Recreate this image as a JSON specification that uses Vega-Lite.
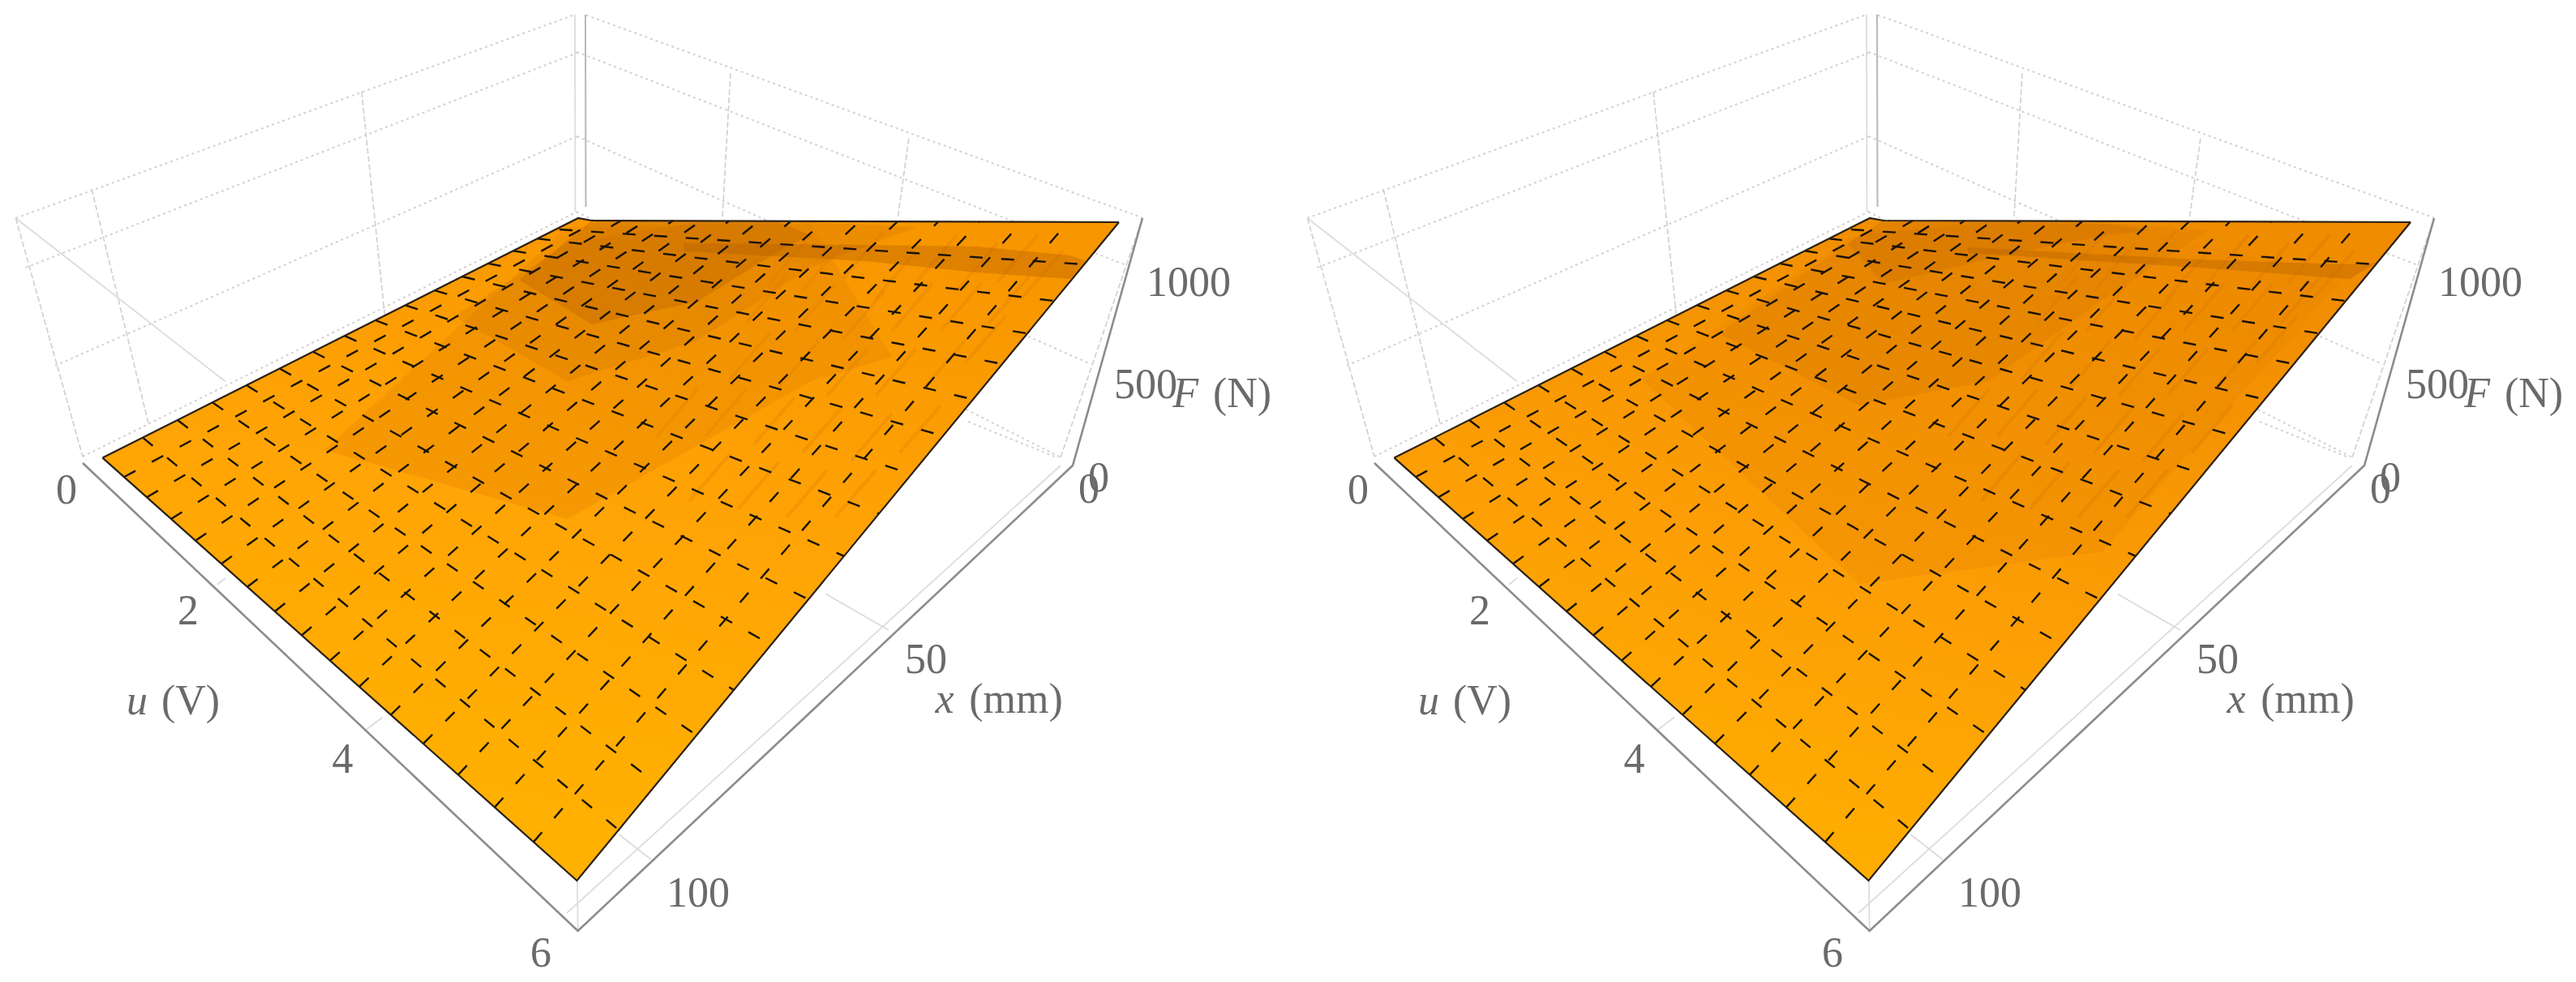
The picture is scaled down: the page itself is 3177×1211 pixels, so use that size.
{
"$schema":"https://vega.github.io/schema/vega-lite/v6.json",
"padding":0,"spacing":0,"background":"white","config":{"view":{"stroke":null},"concat":{"spacing":0}},
"datasets":{
"wallDotted":[
{"id":1,"x":19.4,"y":269},{"id":1,"x":709,"y":18},{"id":2,"x":31.6,"y":330},{"id":2,"x":712,"y":65},{"id":3,"x":68,"y":451},{"id":3,"x":712,"y":168},{"id":4,"x":102,"y":563},{"id":4,"x":712,"y":261},
{"id":5,"x":723,"y":18.7},{"id":5,"x":1409,"y":268.6},{"id":6,"x":711.5,"y":64},{"id":6,"x":1389,"y":327},{"id":7,"x":711.5,"y":168},{"id":7,"x":1343,"y":448},{"id":8,"x":711,"y":261},{"id":8,"x":1308,"y":564},{"id":9,"x":1194,"y":520},{"id":9,"x":1303,"y":564}],
"wallDashed":[
{"id":1,"x":19.4,"y":269},{"id":1,"x":102,"y":563},{"id":2,"x":113,"y":233},{"id":2,"x":183,"y":522},{"id":3,"x":446,"y":113},{"id":3,"x":474.5,"y":389},{"id":4,"x":891,"y":267},{"id":4,"x":901,"y":89},{"id":5,"x":1107.5,"y":267},{"id":5,"x":1121,"y":170},{"id":6,"x":1308,"y":564},{"id":6,"x":1409,"y":269}],
"lightSolid":[
{"id":1,"x":19.4,"y":269},{"id":1,"x":278,"y":470.5},{"id":2,"x":699,"y":1126},{"id":2,"x":1308,"y":574},{"id":3,"x":712,"y":1086},{"id":3,"x":712.7,"y":1147},{"id":4,"x":268,"y":721},{"id":4,"x":278,"y":713},{"id":5,"x":451.5,"y":900},{"id":5,"x":472,"y":884.5},{"id":6,"x":1018.6,"y":732.5},{"id":6,"x":1096,"y":777},{"id":7,"x":763,"y":1028.7},{"id":7,"x":803,"y":1060},{"id":8,"x":709,"y":18},{"id":8,"x":709.5,"y":261}],
"axisLine":[
{"id":1,"x":102,"y":571},{"id":1,"x":712.7,"y":1148},{"id":1,"x":1323,"y":574},{"id":1,"x":1409,"y":269}],
"backPost":[{"x":722,"y":18},{"x":722.5,"y":255}],
"surface":[
{"x":126.5,"y":564.6,"y2":564.6},{"x":711.5,"y":269.5,"y2":1086},{"x":730,"y":272,"y2":1063.5},{"x":1380,"y":274,"y2":274}],
"patchesL":[
{"id":"a","shade":0.25,"x":400,"y":555,"y2":555},{"id":"a","shade":0.25,"x":700,"y":280,"y2":640},{"id":"a","shade":0.25,"x":1000,"y":276,"y2":470},{"id":"a","shade":0.25,"x":1100,"y":440,"y2":440},
{"id":"b","shade":0.4,"x":560,"y":390,"y2":390},{"id":"b","shade":0.4,"x":700,"y":300,"y2":470},{"id":"b","shade":0.4,"x":860,"y":274,"y2":420},{"id":"b","shade":0.4,"x":1000,"y":274,"y2":330},{"id":"b","shade":0.4,"x":1130,"y":280,"y2":280},
{"id":"c","shade":0.8,"x":640,"y":345,"y2":345},{"id":"c","shade":0.8,"x":730,"y":272,"y2":400},{"id":"c","shade":0.8,"x":860,"y":273,"y2":372},{"id":"c","shade":0.8,"x":960,"y":274,"y2":310},{"id":"c","shade":0.8,"x":1000,"y":290,"y2":290},
{"id":"s","shade":0.9,"x":843,"y":300,"y2":310},{"id":"s","shade":0.9,"x":1067,"y":302,"y2":322},{"id":"s","shade":0.9,"x":1205,"y":304,"y2":336},{"id":"s","shade":0.9,"x":1320,"y":315,"y2":344},{"id":"s","shade":0.9,"x":1340,"y":322,"y2":322}],
"patchesR":[
{"id":"a","shade":0.2,"x":431,"y":467,"y2":467},{"id":"a","shade":0.2,"x":700,"y":285,"y2":720},{"id":"a","shade":0.2,"x":1000,"y":276,"y2":680},{"id":"a","shade":0.2,"x":1300,"y":340,"y2":340},
{"id":"b","shade":0.4,"x":527,"y":411,"y2":411},{"id":"b","shade":0.4,"x":700,"y":290,"y2":500},{"id":"b","shade":0.4,"x":860,"y":274,"y2":470},{"id":"b","shade":0.4,"x":1000,"y":274,"y2":370},{"id":"b","shade":0.4,"x":1130,"y":284,"y2":284},
{"id":"c","shade":0.6,"x":686,"y":300,"y2":300},{"id":"c","shade":0.6,"x":730,"y":272,"y2":350},{"id":"c","shade":0.6,"x":900,"y":274,"y2":310},{"id":"c","shade":0.6,"x":1006,"y":276,"y2":290},{"id":"c","shade":0.6,"x":1060,"y":284,"y2":284},
{"id":"s","shade":0.9,"x":834,"y":305,"y2":312},{"id":"s","shade":0.9,"x":1118,"y":320,"y2":330},{"id":"s","shade":0.9,"x":1305,"y":326,"y2":344},{"id":"s","shade":0.9,"x":1338,"y":324,"y2":324}],
"streaks":[
{"id":1,"x":950,"y":348},{"id":1,"x":1000,"y":290},{"id":2,"x":990,"y":358},{"id":2,"x":1040,"y":300},{"id":3,"x":1040,"y":343},{"id":3,"x":1090,"y":285},{"id":4,"x":1080,"y":368},{"id":4,"x":1130,"y":310},{"id":5,"x":1130,"y":348},{"id":5,"x":1180,"y":290},{"id":6,"x":1180,"y":358},{"id":6,"x":1230,"y":300},{"id":7,"x":1230,"y":348},{"id":7,"x":1280,"y":290},{"id":8,"x":1260,"y":368},{"id":8,"x":1310,"y":310},
{"id":9,"x":1220,"y":398},{"id":9,"x":1270,"y":340},{"id":10,"x":1160,"y":408},{"id":10,"x":1210,"y":350},{"id":11,"x":1100,"y":408},{"id":11,"x":1150,"y":350},{"id":12,"x":1040,"y":418},{"id":12,"x":1090,"y":360},{"id":13,"x":980,"y":408},{"id":13,"x":1030,"y":350},{"id":14,"x":920,"y":398},{"id":14,"x":970,"y":340},
{"id":15,"x":1190,"y":448},{"id":15,"x":1240,"y":390},{"id":16,"x":1140,"y":478},{"id":16,"x":1190,"y":420},{"id":17,"x":1080,"y":488},{"id":17,"x":1130,"y":430},{"id":18,"x":1020,"y":488},{"id":18,"x":1070,"y":430},{"id":19,"x":960,"y":478},{"id":19,"x":1010,"y":420},{"id":20,"x":900,"y":468},{"id":20,"x":950,"y":410},
{"id":21,"x":1110,"y":558},{"id":21,"x":1160,"y":500},{"id":22,"x":1050,"y":568},{"id":22,"x":1100,"y":510},{"id":23,"x":990,"y":558},{"id":23,"x":1040,"y":500},{"id":24,"x":930,"y":548},{"id":24,"x":980,"y":490},{"id":25,"x":870,"y":538},{"id":25,"x":920,"y":480},
{"id":26,"x":1030,"y":638},{"id":26,"x":1080,"y":580},{"id":27,"x":970,"y":638},{"id":27,"x":1020,"y":580},{"id":28,"x":910,"y":628},{"id":28,"x":960,"y":570},{"id":29,"x":850,"y":618},{"id":29,"x":900,"y":560},{"id":30,"x":810,"y":538},{"id":30,"x":860,"y":480}],
"grid":[
{"id":"a1","x":153,"y":588.2},{"id":"a1","x":737,"y":272},{"id":"a2","x":181,"y":613.2},{"id":"a2","x":766,"y":272},{"id":"a3","x":211,"y":639.9},{"id":"a3","x":797,"y":272},{"id":"a4","x":241,"y":666.7},{"id":"a4","x":830,"y":272},{"id":"a5","x":273,"y":695.2},{"id":"a5","x":864,"y":272.5},
{"id":"a6","x":305,"y":723.7},{"id":"a6","x":899,"y":272.5},{"id":"a7","x":339,"y":754},{"id":"a7","x":936,"y":272.5},{"id":"a8","x":372,"y":783.5},{"id":"a8","x":975,"y":273},{"id":"a9","x":407,"y":814.7},{"id":"a9","x":1016,"y":273},{"id":"a10","x":443,"y":846.8},{"id":"a10","x":1060,"y":273},
{"id":"a11","x":482,"y":881.5},{"id":"a11","x":1107,"y":273},{"id":"a12","x":522,"y":917.2},{"id":"a12","x":1157,"y":273.5},{"id":"a13","x":565,"y":955.5},{"id":"a13","x":1208,"y":273.5},{"id":"a14","x":610,"y":995.6},{"id":"a14","x":1260,"y":274},{"id":"a15","x":658,"y":1038.4},{"id":"a15","x":1317,"y":274},
{"id":"b1","x":176,"y":539.6},{"id":"b1","x":763,"y":1023.4},{"id":"b2","x":219,"y":518},{"id":"b2","x":810,"y":966.4},{"id":"b3","x":262,"y":496.3},{"id":"b3","x":859,"y":906.8},{"id":"b4","x":304,"y":475.1},{"id":"b4","x":905,"y":851},{"id":"b5","x":345,"y":454.5},{"id":"b5","x":951,"y":795.1},
{"id":"b6","x":386,"y":433.8},{"id":"b6","x":997,"y":739.2},{"id":"b7","x":425,"y":414.1},{"id":"b7","x":1041,"y":685.8},{"id":"b8","x":463,"y":395},{"id":"b8","x":1084,"y":633.5},{"id":"b9","x":500,"y":376.3},{"id":"b9","x":1124,"y":584.9},{"id":"b10","x":536,"y":358.2},{"id":"b10","x":1163,"y":537.6},
{"id":"b11","x":570,"y":341},{"id":"b11","x":1200,"y":492.6},{"id":"b12","x":602,"y":324.9},{"id":"b12","x":1236,"y":448.9},{"id":"b13","x":633,"y":309.3},{"id":"b13","x":1267,"y":411.2},{"id":"b14","x":663,"y":294.2},{"id":"b14","x":1300,"y":371.1},{"id":"b15","x":690,"y":283},{"id":"b15","x":1337,"y":326}],
"edges":[
{"id":1,"x":126.5,"y":564.6},{"id":1,"x":711.5,"y":1086},{"id":1,"x":1380,"y":274},{"id":2,"x":126.5,"y":564.6},{"id":2,"x":713,"y":269},{"id":2,"x":730,"y":272},{"id":2,"x":1380,"y":274}],
"labels":[
{"x":82,"y":621,"t":"0"},{"x":232,"y":769.5,"t":"2"},{"x":422.5,"y":952.7,"t":"4"},{"x":667,"y":1192,"t":"6"},{"x":235,"y":880.6,"t":"(V)"},
{"x":861,"y":1118,"t":"100"},{"x":1142,"y":830,"t":"50"},{"x":1343,"y":620,"t":"0"},{"x":1253,"y":878.6,"t":"(mm)"},
{"x":1355,"y":606,"t":"0"},{"x":1413,"y":491,"t":"500"},{"x":1466,"y":365,"t":"1000"},{"x":1532,"y":501.5,"t":"(N)"}],
"italics":[{"x":169,"y":880.6,"t":"u"},{"x":1165,"y":878.6,"t":"x"},{"x":1462,"y":501.5,"t":"F"}]
},
"hconcat":[
{"width":1593,"height":1211,
"encoding":{"x":{"field":"x","type":"quantitative","scale":{"domain":[0,1593],"nice":false,"zero":false},"axis":null},"y":{"field":"y","type":"quantitative","scale":{"domain":[1211,0],"nice":false,"zero":false},"axis":null}},
"layer":[
{"data":{"name":"wallDotted"},"mark":{"type":"line","stroke":"#d2d2d2","strokeWidth":2,"strokeDash":[3,4]},"encoding":{"detail":{"field":"id"}}},
{"data":{"name":"wallDashed"},"mark":{"type":"line","stroke":"#cfcfcf","strokeWidth":1.6,"strokeDash":[7,3]},"encoding":{"detail":{"field":"id"}}},
{"data":{"name":"lightSolid"},"mark":{"type":"line","stroke":"#dcdcdc","strokeWidth":1.8},"encoding":{"detail":{"field":"id"}}},
{"data":{"name":"backPost"},"mark":{"type":"line","stroke":"#b8b8b8","strokeWidth":2},"encoding":{}},
{"data":{"name":"axisLine"},"mark":{"type":"line","stroke":"#8c8c8c","strokeWidth":2.6},"encoding":{"detail":{"field":"id"}}},
{"data":{"name":"surface"},"mark":{"type":"area","fill":{"gradient":"linear","x1":0.35,"y1":1,"x2":0.65,"y2":0,"stops":[{"offset":0,"color":"#ffb300"},{"offset":0.55,"color":"#ffa405"},{"offset":1,"color":"#f89600"}]}},"encoding":{"y2":{"field":"y2"}}},
{"data":{"name":"streaks"},"mark":{"type":"line","stroke":"#d97c00","strokeWidth":4,"opacity":0.3},"encoding":{"detail":{"field":"id"}}},
{"data":{"name":"patchesL"},"mark":{"type":"area","opacity":0.35},"encoding":{"y2":{"field":"y2"},"detail":{"field":"id"},"color":{"field":"shade","type":"quantitative","legend":null,"scale":{"domain":[0,1],"range":["#f79400","#a85500"]}}}},
{"data":{"name":"grid"},"mark":{"type":"line","stroke":"#1a1208","strokeWidth":2.4,"strokeDash":[16,23]},"encoding":{"detail":{"field":"id"}}},
{"data":{"name":"edges"},"mark":{"type":"line","stroke":"#2a2015","strokeWidth":2.2},"encoding":{"detail":{"field":"id"}}},
{"data":{"name":"labels"},"mark":{"type":"text","font":"Liberation Serif","fontSize":52,"fill":"#6a6a6a","align":"center","baseline":"alphabetic"},"encoding":{"text":{"field":"t"}}},
{"data":{"name":"italics"},"mark":{"type":"text","font":"Liberation Serif","fontStyle":"italic","fontSize":52,"fill":"#6a6a6a","align":"center","baseline":"alphabetic"},"encoding":{"text":{"field":"t"}}}
]},
{"width":1584,"height":1211,
"encoding":{"x":{"field":"x","type":"quantitative","scale":{"domain":[0,1584],"nice":false,"zero":false},"axis":null},"y":{"field":"y","type":"quantitative","scale":{"domain":[1211,0],"nice":false,"zero":false},"axis":null}},
"layer":[
{"data":{"name":"wallDotted"},"mark":{"type":"line","stroke":"#d2d2d2","strokeWidth":2,"strokeDash":[3,4]},"encoding":{"detail":{"field":"id"}}},
{"data":{"name":"wallDashed"},"mark":{"type":"line","stroke":"#cfcfcf","strokeWidth":1.6,"strokeDash":[7,3]},"encoding":{"detail":{"field":"id"}}},
{"data":{"name":"lightSolid"},"mark":{"type":"line","stroke":"#dcdcdc","strokeWidth":1.8},"encoding":{"detail":{"field":"id"}}},
{"data":{"name":"backPost"},"mark":{"type":"line","stroke":"#b8b8b8","strokeWidth":2},"encoding":{}},
{"data":{"name":"axisLine"},"mark":{"type":"line","stroke":"#8c8c8c","strokeWidth":2.6},"encoding":{"detail":{"field":"id"}}},
{"data":{"name":"surface"},"mark":{"type":"area","fill":{"gradient":"linear","x1":0.3,"y1":1,"x2":0.7,"y2":0,"stops":[{"offset":0,"color":"#ffb000"},{"offset":0.45,"color":"#fc9e05"},{"offset":1,"color":"#f08c00"}]}},"encoding":{"y2":{"field":"y2"}}},
{"data":{"name":"streaks"},"mark":{"type":"line","stroke":"#d87600","strokeWidth":4,"opacity":0.4},"encoding":{"detail":{"field":"id"}}},
{"data":{"name":"patchesR"},"mark":{"type":"area","opacity":0.35},"encoding":{"y2":{"field":"y2"},"detail":{"field":"id"},"color":{"field":"shade","type":"quantitative","legend":null,"scale":{"domain":[0,1],"range":["#f79400","#a85500"]}}}},
{"data":{"name":"grid"},"mark":{"type":"line","stroke":"#1a1208","strokeWidth":2.4,"strokeDash":[16,23]},"encoding":{"detail":{"field":"id"}}},
{"data":{"name":"edges"},"mark":{"type":"line","stroke":"#2a2015","strokeWidth":2.2},"encoding":{"detail":{"field":"id"}}},
{"data":{"name":"labels"},"mark":{"type":"text","font":"Liberation Serif","fontSize":52,"fill":"#6a6a6a","align":"center","baseline":"alphabetic"},"encoding":{"text":{"field":"t"}}},
{"data":{"name":"italics"},"mark":{"type":"text","font":"Liberation Serif","fontStyle":"italic","fontSize":52,"fill":"#6a6a6a","align":"center","baseline":"alphabetic"},"encoding":{"text":{"field":"t"}}}
]}
]
}
